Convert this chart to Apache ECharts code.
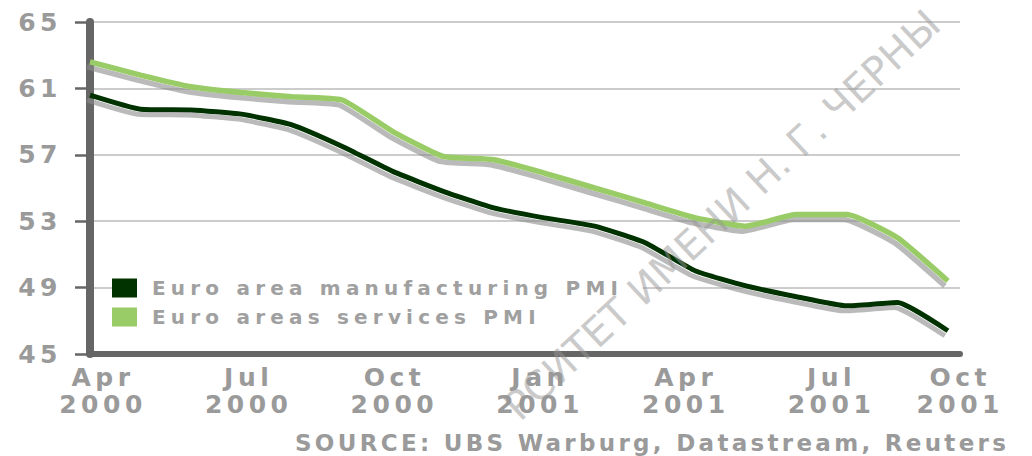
<!DOCTYPE html>
<html>
<head>
<meta charset="utf-8">
<script src="https://cdn.jsdelivr.net/npm/echarts@6/dist/echarts.min.js"></script>
<style>
html,body{margin:0;padding:0;background:#fff;}
#chart{width:1032px;height:456px;}
#chart text[style*="25px"]{letter-spacing:4.5px;}
#chart text[style*="20px"]{letter-spacing:5.2px;}
#chart text[style*="23px"]{letter-spacing:3.3px;}
</style>
</head>
<body>
<div id="chart"></div>
<script>
// Monthly data, Apr 2000 – Sep 2001
const months = ['Apr 2000','May 2000','Jun 2000','Jul 2000','Aug 2000','Sep 2000','Oct 2000','Nov 2000','Dec 2000',
  'Jan 2001','Feb 2001','Mar 2001','Apr 2001','May 2001','Jun 2001','Jul 2001','Aug 2001','Sep 2001'];
const manufacturing = [60.6, 59.75, 59.7, 59.45, 58.8, 57.5, 56.0, 54.8, 53.8, 53.2, 52.7, 51.7, 50.0, 49.1, 48.45, 47.9, 48.1, 46.4];
const services = [62.6, 61.8, 61.1, 60.75, 60.5, 60.3, 58.4, 56.9, 56.7, 55.9, 55.0, 54.1, 53.2, 52.7, 53.4, 53.4, 52.0, 49.4];
const seriesNames = ['Euro area manufacturing PMI', 'Euro areas services PMI'];
const xTickLabels = ['Apr\n2000','Jul\n2000','Oct\n2000','Jan\n2001','Apr\n2001','Jul\n2001','Oct\n2001'];
const sourceText = 'SOURCE: UBS Warburg, Datastream, Reuters';
const watermarkText = 'РСИТЕТ ИМЕНИ Н. Г. ЧЕРНЫ';

const toPairs = arr => arr.map((v, i) => [i, v]);
const FONT = 'DejaVu Sans';
const labelGray = '#9a9a9a';
const shadow = {shadowColor:'rgba(140,140,140,0.6)', shadowBlur:1, shadowOffsetX:-3, shadowOffsetY:5};

// last tick label sits shifted left so it stays inside the picture
const xCategoryData = xTickLabels.map((t, i) =>
  i === xTickLabels.length - 1 ? {value:t, textStyle:{padding:[0,34,0,0]}} : t);

const chart = echarts.init(document.getElementById('chart'), null, {renderer:'svg'});
chart.setOption({
  animation:false,
  backgroundColor:'#fff',
  title:{
    text:sourceText, left:295, top:431, padding:0,
    textStyle:{fontSize:23, fontWeight:'bold', color:labelGray, fontFamily:FONT}
  },
  legend:{
    orient:'vertical', left:112, top:276, itemWidth:25, itemHeight:19, itemGap:9,
    icon:'rect', backgroundColor:'#fff', padding:[2,160,2,0],
    textStyle:{color:'#a0a0a0', fontSize:20, fontWeight:'bold', fontFamily:FONT, padding:[0,0,0,10]},
    data:seriesNames
  },
  grid:[
    {left:90, right:72, top:22, bottom:102},
    {left:103, right:38, top:22, bottom:102}
  ],
  xAxis:[
    {type:'value', gridIndex:0, min:0, max:17.24,
     axisLine:{show:true, lineStyle:{color:'#666', width:6}},
     axisTick:{show:false}, axisLabel:{show:false}, splitLine:{show:false}},
    {type:'category', gridIndex:1, data:xCategoryData, boundaryGap:false,
     axisLine:{show:false}, axisTick:{show:false}, splitLine:{show:false},
     axisLabel:{interval:0, margin:10, color:labelGray, fontSize:25, fontWeight:'bold', fontFamily:FONT, lineHeight:27}}
  ],
  yAxis:[
    {type:'value', gridIndex:0, min:45, max:65, interval:4,
     axisLine:{show:true, lineStyle:{color:'#666', width:8}},
     axisTick:{show:true, length:15, lineStyle:{color:'#666', width:2.5}},
     axisLabel:{margin:28, color:labelGray, fontSize:25, fontWeight:'bold', fontFamily:FONT},
     splitLine:{show:true, lineStyle:{color:'#cccccc', width:2}}},
    {type:'value', gridIndex:1, show:false, min:45, max:65}
  ],
  series:[
    {name:seriesNames[0], type:'line', xAxisIndex:0, yAxisIndex:0, data:toPairs(manufacturing),
     showSymbol:false, smooth:0.15, color:'#003300',
     lineStyle:Object.assign({color:'#003300', width:5}, shadow), z:3},
    {name:seriesNames[1], type:'line', xAxisIndex:0, yAxisIndex:0, data:toPairs(services),
     showSymbol:false, smooth:0.15, color:'#99cc66',
     lineStyle:Object.assign({color:'#99cc66', width:5.5}, shadow), z:2}
  ],
  graphic:[
    {type:'text', x:722, y:215, rotation:43*Math.PI/180, z:100, silent:true,
     style:{text:watermarkText, fontSize:40, fontFamily:FONT, fill:'rgba(150,150,150,0.5)', align:'center', verticalAlign:'middle'}}
  ]
});
</script>
</body>
</html>
